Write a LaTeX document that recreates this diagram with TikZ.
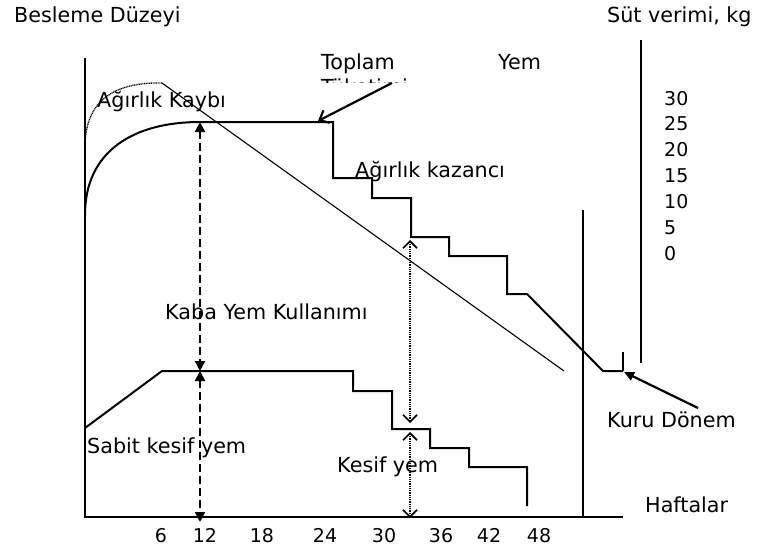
\documentclass[tikz,border=0pt]{standalone}
\usepackage{fontspec}
\setmainfont{DejaVu Sans}
\usetikzlibrary{arrows.meta}

\begin{document}
\begin{tikzpicture}[x=1pt,y=-1pt,font=\fontsize{20.7}{25}\selectfont,
  txt/.style={anchor=base west,inner sep=0pt},
  numtxt/.style={inner sep=0pt,font=\fontsize{19}{23}\selectfont},
  axisline/.style={line width=1.8pt},
  feedline/.style={line width=2pt,line join=miter},
  thinline/.style={line width=1.1pt},
  dashedarrow/.style={line width=2.2pt,dash pattern=on 8pt off 4pt,
    {Triangle[length=10pt,width=10pt]}-{Triangle[length=10pt,width=10pt]}},
  dottedarrow/.style={line width=1.7pt,dash pattern=on 1pt off 0.8pt,
    {Straight Barb[length=7pt,width=14pt]}-{Straight Barb[length=7pt,width=14pt]}},
  pointer/.style={line width=2.2pt}]

\useasboundingbox (0,0) rectangle (760,551);

%% ── AXES ─────────────────────────────────────────────────────────────
\draw[axisline] (85,58) -- (85,517) -- (623,517);
\draw[axisline] (583,210) -- (583,517);   % start of dry period
\draw[axisline] (641,40) -- (641,363);    % milk yield scale

%% ── TOTAL FEED INTAKE (upper curve) ──────────────────────────────────
\draw[feedline]
  (85,215) .. controls (85,150) and (135,122) .. (200,122)
  -- (333,122) -- (333,178) -- (372,178) -- (372,198) -- (411,198)
  -- (411,237) -- (449,237) -- (449,256) -- (507,256) -- (507,294)
  -- (527,294) -- (603,371) -- (623,371);
\draw[feedline] (623,352) -- (623,371);

%% ── MILK YIELD (dotted rise + thin decline) ──────────────────────────
\draw[line width=1.3pt,dash pattern=on 1pt off 0.7pt]
  (85,145) .. controls (86,100) and (115,82) .. (162,83);
\draw[thinline] (162,83) -- (564,371);

%% ── CONCENTRATE (lower curve) ────────────────────────────────────────
\draw[feedline]
  (85,428) -- (162,371) -- (353,371) -- (353,391) -- (392,391)
  -- (392,429) -- (430,429) -- (430,448) -- (469,448) -- (469,467)
  -- (527,467) -- (527,506);

%% ── MEASURE ARROWS ───────────────────────────────────────────────────
\coordinate (kabaTop) at (200,122);
\coordinate (kabaMid) at (200,371);
\coordinate (kabaBot) at (200,522);
\draw[dashedarrow] (kabaTop) -- (kabaMid);
\draw[dashedarrow] (kabaMid) -- (kabaBot);

\coordinate (kesifTop) at (410,240);
\coordinate (kesifUp)  at (410,423);
\coordinate (kesifLo)  at (410,432);
\coordinate (kesifBot) at (410,518);
\draw[dottedarrow] (kesifTop) -- (kesifUp);
\draw[dottedarrow] (kesifLo) -- (kesifBot);

%% ── LABELS ───────────────────────────────────────────────────────────
\node[txt] (besleme) at (14,23)  {Besleme Düzeyi};
\node[txt] (sut)     at (607,23) {Süt verimi, kg};

\node[txt] (toplam) at (321,70) {Toplam};
\node[txt] (yem)    at (498,70) {Yem};
\begin{scope}
  \clip (300,60) rectangle (560,82);
  \node[txt] (tuketim) at (321,94) {Tüketimi};
\end{scope}

\node[txt] (kayip)    at (97,107)  {Ağırlık Kaybı};
\node[txt] (kazanc)   at (355,177) {Ağırlık kazancı};
\node[txt] (kaba)     at (165,319) {Kaba Yem Kullanımı};
\node[txt] (sabit)    at (87,453)  {Sabit kesif yem};
\node[txt] (kesif)    at (337,472) {Kesif yem};
\node[txt] (kuru)     at (607,427) {Kuru Dönem};
\node[txt] (haftalar) at (645,512) {Haftalar};

% Pointers to the curves
\coordinate (toplamTail) at (392,83);
\coordinate (toplamTip)  at (318,121);
\draw[pointer,-{Straight Barb[length=8pt,width=14pt]}] (toplamTail) -- (toplamTip);
\coordinate (kuruTail) at (698,408);
\coordinate (kuruTip)  at (624,372);
\draw[pointer,-{Triangle[length=10pt,width=9pt]}] (kuruTail) -- (kuruTip);

%% ── SCALES ───────────────────────────────────────────────────────────
\foreach \v [count=\i from 0] in {30,25,20,15,10,5,0}
  \node[numtxt,anchor=base west] (sut\v) at (664,{105+\i*25.9}) {\v};

\foreach \w/\x in {6/161,12/205,18/262,24/325,30/384,36/441,42/489,48/539}
  \node[numtxt,anchor=base] (hafta\w) at (\x,542) {\w};

\end{tikzpicture}
\end{document}
